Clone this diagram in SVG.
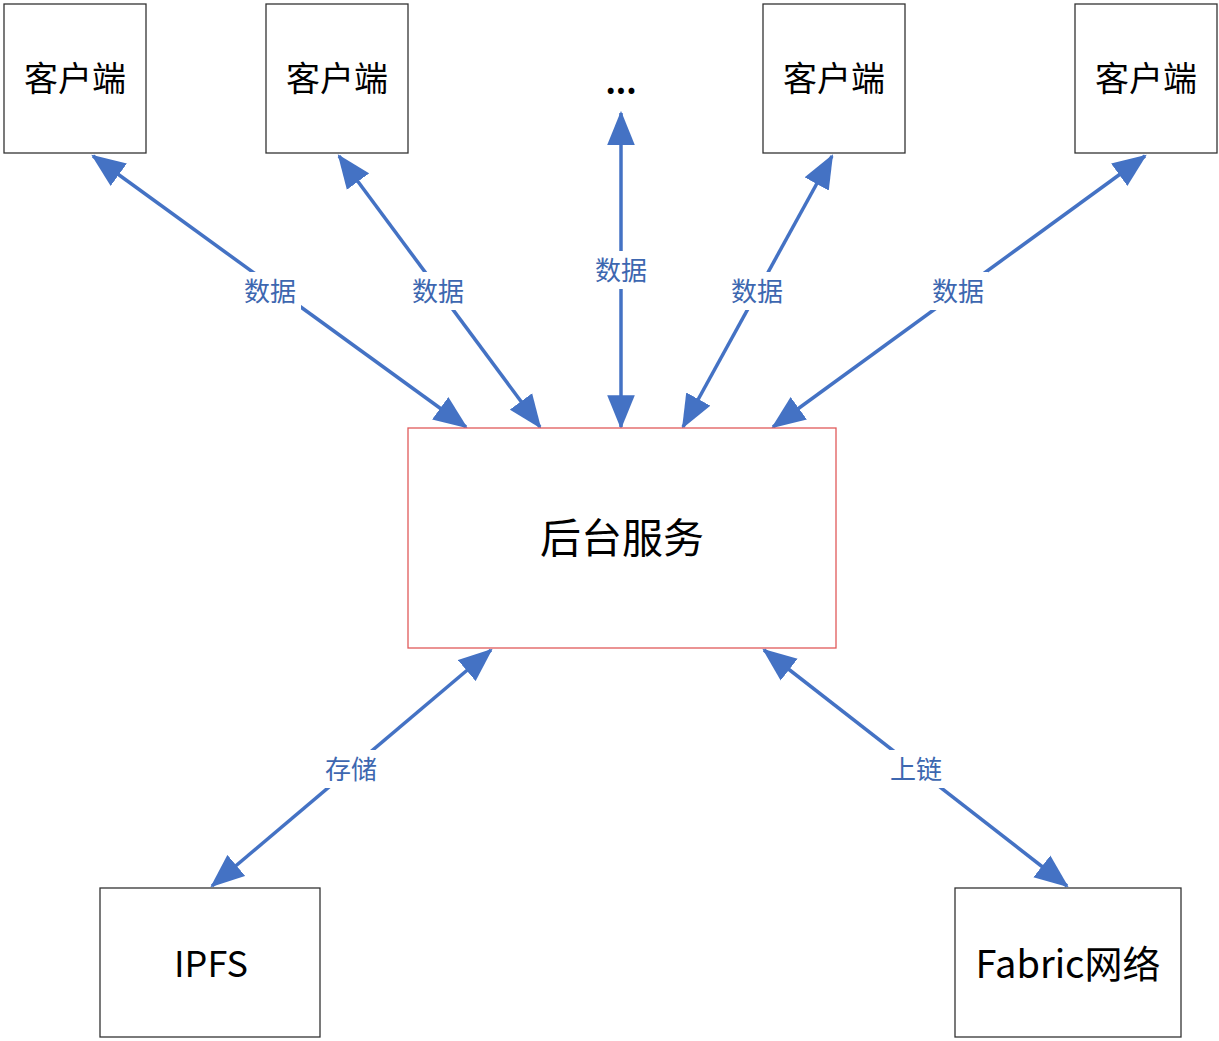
<svg xmlns="http://www.w3.org/2000/svg" width="1219" height="1041" viewBox="0 0 1219 1041">
<style>
.box{fill:#fff;stroke:#333;stroke-width:1.3}
.main{fill:#fff;stroke:#e05a5a;stroke-width:1.3}
.t{font-family:"Noto Sans CJK SC","Noto Sans",sans-serif;fill:#000;text-anchor:middle;dominant-baseline:central}
.lt{font-family:"Noto Sans CJK SC","Noto Sans",sans-serif;fill:#3d67b0;font-size:26px;text-anchor:middle;dominant-baseline:central}
.c{stroke:#4472c4;stroke-width:3.5;fill:none;marker-start:url(#ah);marker-end:url(#ah)}
.lb{fill:#fff}
</style>
<defs>
<marker id="ah" markerUnits="userSpaceOnUse" markerWidth="34" markerHeight="28" viewBox="0 0 32 26" refX="30" refY="13" orient="auto-start-reverse">
<path d="M0,0 L32,13 L0,26 Z" fill="#4472c4"/>
</marker>
</defs>
<g id="connectors">
<line class="c" x1="93" y1="156" x2="466" y2="427"/>
<line class="c" x1="339" y1="156" x2="540" y2="427"/>
<line class="c" x1="621" y1="113" x2="621" y2="427"/>
<line class="c" x1="832" y1="156" x2="683" y2="427"/>
<line class="c" x1="1145" y1="156" x2="773" y2="427"/>
<line class="c" x1="491" y1="650" x2="212" y2="886"/>
<line class="c" x1="764" y1="650" x2="1067" y2="886"/>
<rect class="lb" x="241" y="272" width="60" height="38"/>
<text class="lt" x="270" y="289">数据</text>
<rect class="lb" x="409" y="272" width="60" height="38"/>
<text class="lt" x="438" y="289">数据</text>
<rect class="lb" x="591" y="251" width="60" height="38"/>
<text class="lt" x="621" y="268">数据</text>
<rect class="lb" x="727" y="272" width="60" height="38"/>
<text class="lt" x="757" y="289">数据</text>
<rect class="lb" x="928" y="272" width="60" height="38"/>
<text class="lt" x="958" y="289">数据</text>
<rect class="lb" x="321" y="750" width="60" height="38"/>
<text class="lt" x="351" y="767">存储</text>
<rect class="lb" x="886" y="750" width="60" height="38"/>
<text class="lt" x="916" y="767">上链</text>
</g>
<g id="client1"><rect class="box" x="4" y="4" width="142" height="149"/><text class="t" x="75" y="76" font-size="34">客户端</text></g>
<g id="client2"><rect class="box" x="266" y="4" width="142" height="149"/><text class="t" x="337" y="76" font-size="34">客户端</text></g>
<g id="ellipsis"><text class="t" x="621" y="80" font-size="32" font-weight="bold">...</text></g>
<g id="client3"><rect class="box" x="763" y="4" width="142" height="149"/><text class="t" x="834" y="76" font-size="34">客户端</text></g>
<g id="client4"><rect class="box" x="1075" y="4" width="142" height="149"/><text class="t" x="1146" y="76" font-size="34">客户端</text></g>
<g id="backend"><rect class="main" x="408" y="428" width="428" height="220"/><text class="t" x="622" y="535" font-size="41">后台服务</text></g>
<g id="ipfs"><rect class="box" x="100" y="888" width="220" height="149"/><text class="t" x="211" y="961" font-size="36">IPFS</text></g>
<g id="fabric"><rect class="box" x="955" y="888" width="226" height="149"/><text class="t" x="1068" y="961" font-size="38">Fabric网络</text></g>
</svg>
